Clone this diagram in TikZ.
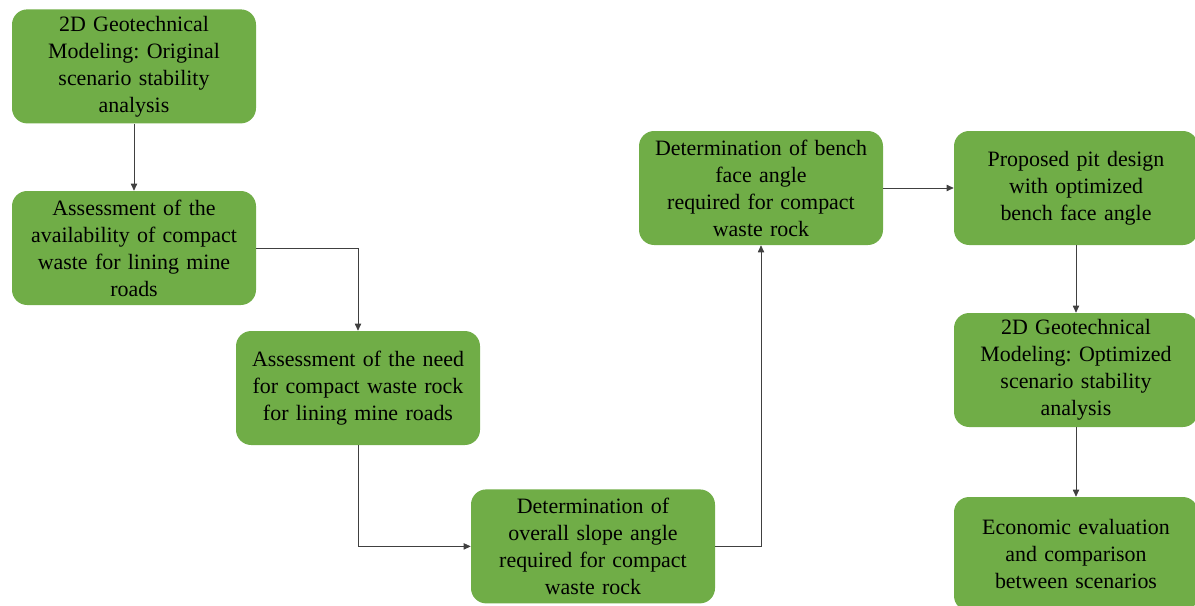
\documentclass[tikz,border=0pt]{standalone}
\usepackage{fontspec}
\setmainfont{Liberation Serif}
\usetikzlibrary{arrows.meta}
\frenchspacing

\begin{document}
\begin{tikzpicture}[font=\fontsize{15.6}{19.2}\selectfont,
  stepbox/.style={fill=stepgreen,rounded corners=.38cm,minimum width=6.1cm,minimum height=2.85cm,text width=6cm,align=center,inner sep=0pt},
  link/.style={draw=black!75,line width=.5pt,-{Triangle[length=5pt,width=4.5pt]}}]
\definecolor{stepgreen}{HTML}{70AD47}
\useasboundingbox (0,0) rectangle (29.875,-15.125);
\node[stepbox] (orig) at (3.35,-1.66) {2D Geotechnical\\ Modeling: Original\\ scenario stability\\ analysis};
\node[stepbox] (avail) at (3.35,-6.2) {Assessment of the\\ availability of compact\\ waste for lining mine\\ roads};
\node[stepbox] (need) at (8.95,-9.7) {Assessment of the need\\ for compact waste rock\\ for lining mine roads};
\node[stepbox] (overall) at (14.825,-13.66) {Determination of\\ overall slope angle\\ required for compact\\ waste rock};
\node[stepbox] (bench) at (19.025,-4.7) {Determination of bench\\ face angle\\ required for compact\\ waste rock};
\node[stepbox] (design) at (26.9,-4.7) {Proposed pit design\\ with optimized\\ bench face angle};
\node[stepbox] (optim) at (26.9,-9.25) {2D Geotechnical\\ Modeling: Optimized\\ scenario stability\\ analysis};
\node[stepbox] (econ) at (26.9,-13.85) {Economic evaluation\\ and comparison\\ between scenarios};
\draw[link] (orig) -- (avail);
\draw[link] (avail.east) -| (need.north);
\draw[link] (need.south) |- (overall.west);
\draw[link] (overall.east) -| (bench.south);
\draw[link] (bench) -- (design);
\draw[link] (design) -- (optim);
\draw[link] (optim) -- (econ);
\end{tikzpicture}
\end{document}
